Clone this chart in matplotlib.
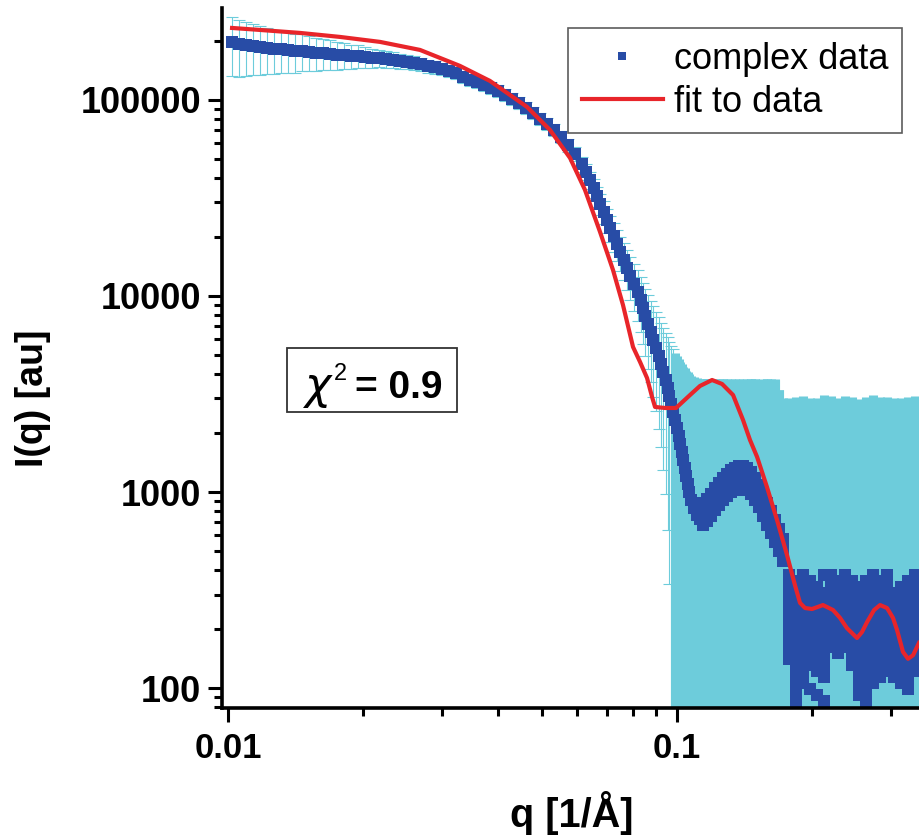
import matplotlib
matplotlib.use("Agg")
import matplotlib.pyplot as plt
from matplotlib.lines import Line2D
from matplotlib.patches import Rectangle
from matplotlib.ticker import LogLocator, NullFormatter

# ---------------- data ----------------
# smooth low-q part of the measured curve
q_low = [0.01021, 0.01058, 0.01097, 0.01137, 0.01178, 0.01221, 0.01266, 0.01312, 0.01360, 0.01410,
         0.01461, 0.01515, 0.01570, 0.01627, 0.01687, 0.01749, 0.01813, 0.01879, 0.01948, 0.02019,
         0.02093, 0.02169, 0.02248, 0.02331, 0.02416, 0.02505, 0.02596, 0.02691, 0.02790, 0.02891,
         0.02997, 0.03107, 0.03221, 0.03338, 0.03459, 0.03586, 0.03717, 0.03852, 0.03994, 0.04140,
         0.04291, 0.04448, 0.04610, 0.04779, 0.04954, 0.05135, 0.05322, 0.05517, 0.05718, 0.05927,
         0.06143]
I_low = [197700, 193100, 190800, 188600, 186400, 184200, 182000, 182000, 179900, 177800,
         177800, 175700, 173700, 173700, 171700, 169700, 169700, 167700, 167700, 165800,
         163800, 163800, 161900, 160000, 158100, 156300, 154500, 152600, 149100, 147400,
         143900, 140600, 137300, 131000, 126500, 123500, 119300, 115100, 111200, 106000,
         101200, 96540, 91000, 85800, 80000, 75450, 70300, 64750, 58950, 53030,
         47150]
err_low = [66000, 62000, 58000, 55000, 52000, 49000, 46000, 44000, 42000, 40000,
           38000, 36000, 34000, 32000, 30000, 28000, 26000, 24000, 22000, 20000,
           18000, 17000, 16000, 15000, 14000, 13000, 12500, 12000, 11500, 11000,
           10500, 10000, 9600, 9200, 8800, 8400, 8000, 7700, 7400, 7100,
           6800, 6500, 6200, 5900, 5600, 5300, 5000, 4800, 4600, 4400,
           4200]

# steep drop towards the first minimum
q_drop = [0.06270, 0.06401, 0.06534, 0.06636, 0.06739, 0.06878, 0.06985, 0.07093, 0.07240, 0.07353,
          0.07467, 0.07621, 0.07740, 0.07860, 0.08022, 0.08188, 0.08315, 0.08401, 0.08487, 0.08619,
          0.08753, 0.08843, 0.08981, 0.09120, 0.09214, 0.09308, 0.09452, 0.09550, 0.09599, 0.09698,
          0.09797, 0.09898, 0.1000, 0.1010, 0.1016, 0.1026, 0.1031, 0.1042, 0.1047, 0.1058,
          0.1063, 0.1074, 0.1091, 0.1108, 0.1125]
I_drop = [42930, 39070, 35560, 32370, 29470, 26830, 24420, 22230, 20240, 18420,
          16770, 15270, 13900, 12650, 11510, 10480, 9541, 8685, 7907, 7197,
          6551, 5963, 5429, 4942, 4499, 4095, 3727, 3393, 3088, 2812,
          2560, 2330, 2121, 1931, 1758, 1600, 1456, 1326, 1207, 1099,
          1000, 910, 829, 763, 728]
err_drop = [4100, 4000, 3900, 3800, 3700, 3600, 3500, 3450, 3400, 3350,
            3300, 3250, 3200, 3150, 3100, 3050, 3000, 3000, 2950, 2950,
            2900, 2900, 2850, 2850, 2800, 2800, 2750, 2750, 2750, 2750,
            2800, 2800, 2800, 2850, 2850, 2900, 2900, 2950, 2950, 3000,
            3000, 3000, 3050, 3050, 3050]

# second maximum: the band is thick, read as upper edge, middle and lower edge
q_bump = [0.1143, 0.1166, 0.1191, 0.1215, 0.1240, 0.1266, 0.1292, 0.1319, 0.1346, 0.1374,
          0.1403, 0.1432, 0.1462, 0.1492, 0.1523, 0.1555, 0.1587, 0.1620, 0.1654, 0.1688,
          0.1723]
I_bump_hi = [879, 921, 977, 1048, 1112, 1179, 1236, 1295, 1326, 1357,
             1357, 1326, 1265, 1179, 1086, 977, 879, 800, 720, 648,
             576]
I_bump_mid = [772, 809, 858, 921, 977, 1036, 1086, 1138, 1165, 1193,
              1193, 1165, 1112, 1036, 954, 858, 772, 703, 632, 569,
              506]
I_bump_lo = [679, 711, 754, 809, 858, 910, 954, 1000, 1024, 1048,
             1048, 1024, 977, 910, 838, 754, 679, 618, 556, 500,
             445]
err_bump_hi = [2870, 2830, 2770, 2700, 2640, 2570, 2510, 2450, 2420, 2390,
               2390, 2420, 2490, 2570, 2660, 2770, 2870, 2950, 3030, 2650,
               2420]
err_bump_mid = [2970, 2940, 2890, 2830, 2770, 2710, 2660, 2610, 2580, 2560,
                2560, 2580, 2640, 2710, 2790, 2890, 2970, 3040, 3110, 2730,
                2490]
err_bump_lo = [3070, 3040, 3000, 2940, 2890, 2840, 2800, 2750, 2730, 2700,
               2700, 2730, 2770, 2840, 2910, 3000, 3070, 3130, 3190, 2800,
               2555]

# noisy high-q region, read column by column
q_noise = [0.1776, 0.1841, 0.1908, 0.1978, 0.2050, 0.2125, 0.2203, 0.2284, 0.2367, 0.2454,
           0.2543, 0.2636, 0.2733, 0.2833, 0.2936, 0.3043, 0.3155, 0.3270, 0.3389]
I_noise = [
    [377, 328, 285, 247, 215, 186, 162, 141],
    [352, 305, 265, 230, 200, 174, 151, 131, 114, 99, 86],
    [377, 328, 285, 247, 215, 186, 162, 141, 122, 106],
    [352, 305, 265, 230, 200, 174, 151, 131, 99],
    [328, 285, 247, 215, 186, 162, 141, 122, 92],
    [377, 305, 265, 230, 200, 174, 151, 131, 114, 86],
    [377, 328, 285, 247, 215, 186, 162],
    [352, 305, 265, 230, 200, 174, 151],
    [377, 328, 285, 247, 215, 186, 162],
    [352, 305, 265, 230, 200, 174, 151, 131],
    [328, 285, 247, 215, 186, 162, 141, 122, 106, 92],
    [352, 305, 265, 230, 200, 174, 151, 131, 114, 99, 86],
    [377, 328, 285, 247, 215, 186, 162, 141, 122, 106],
    [352, 305, 265, 230, 200, 174, 151, 131, 114],
    [377, 328, 285, 247, 215, 186, 162, 141, 122],
    [305, 265, 230, 200, 174, 151, 131, 114],
    [328, 285, 247, 215, 186, 162, 141, 122, 106],
    [352, 305, 265, 230, 200, 174, 151, 131, 114, 99],
    [377, 328, 285, 247, 215, 186, 162, 141, 122],
]
err_noise = [2650, 2700, 2720, 2680, 2700, 2750, 2700, 2680, 2720, 2700,
             2660, 2700, 2740, 2700, 2680, 2720, 2700, 2690, 2710]

# fit curve
q_fit = [0.01021, 0.01178, 0.01447, 0.01776, 0.02181, 0.02677, 0.03286, 0.03832, 0.04634, 0.05213,
         0.05777, 0.06238, 0.06739, 0.07202, 0.07580, 0.07981, 0.08274, 0.08576, 0.08799, 0.08935,
         0.09404, 0.09949, 0.1069, 0.1125, 0.1197, 0.1260, 0.1333, 0.1403, 0.1454, 0.1508,
         0.1586, 0.1670, 0.1758, 0.1831, 0.1879, 0.1928, 0.1998, 0.2114, 0.2226, 0.2307,
         0.2391, 0.2517, 0.2582, 0.2650, 0.2747, 0.2833, 0.2936, 0.3027, 0.3090, 0.3186,
         0.3270, 0.3355, 0.3459]
I_fit = [232900, 227500, 219700, 209600, 197700, 179900, 149100, 125000, 92100, 70300,
         50600, 34740, 21210, 13570, 8997, 5493, 4605, 3815, 3053, 2715,
         2683, 2683, 3124, 3474, 3727, 3556, 3124, 2330, 1842, 1509,
         1061, 720, 477, 335, 272, 256, 253, 265, 250, 228,
         202, 180, 193, 217, 250, 265, 256, 228, 198, 153,
         141, 147, 170]

x_ticks = [0.01, 0.1]
x_tick_labels = ["0.01", "0.1"]
y_ticks = [100, 1000, 10000, 100000]
y_tick_labels = ["100", "1000", "10000", "100000"]
series_labels = ["complex data", "fit to data"]
chi_symbol = "χ"
chi_power = "2"
chi_text = "= 0.9"

# ---------------- assemble ----------------
q_all, I_all, e_all = [], [], []
q_all += q_low; I_all += I_low; e_all += err_low
q_all += q_drop; I_all += I_drop; e_all += err_drop
for Ib, eb in ((I_bump_hi, err_bump_hi), (I_bump_mid, err_bump_mid), (I_bump_lo, err_bump_lo)):
    q_all += q_bump; I_all += Ib; e_all += eb
for qc, col, ec in zip(q_noise, I_noise, err_noise):
    q_all += [qc] * len(col)
    I_all += col
    e_all += [ec] * len(col)

split = 0.0985
thin = [(q, i, e) for q, i, e in zip(q_all, I_all, e_all) if q < split]
thick = [(q, i, e) for q, i, e in zip(q_all, I_all, e_all) if q >= split]

BLUE = "#284ca6"
CYAN = "#6dccdb"
RED = "#e8252a"

plt.rcParams["font.family"] = ["Liberation Sans", "DejaVu Sans"]

W, H = 919, 839
fig = plt.figure(figsize=(W / 100, H / 100), dpi=100)
L, R, B, T = 222, 919, 708, 8
ax = fig.add_axes([L / W, 1 - B / H, (R - L) / W, (B - T) / H])
ax.set_xscale("log")
ax.set_yscale("log", nonpositive="clip")

ax.errorbar([t[0] for t in thin], [t[1] for t in thin], yerr=[t[2] for t in thin],
            fmt="none", ecolor=CYAN, elinewidth=0.8, capsize=4.5, capthick=0.8, zorder=1)
ax.errorbar([t[0] for t in thick], [t[1] for t in thick], yerr=[t[2] for t in thick],
            fmt="none", ecolor=CYAN, elinewidth=6.5, capsize=0, zorder=1)
ax.plot(q_all, I_all, ls="none", marker="s", ms=8.6, color=BLUE, mew=0, zorder=2)
ax.plot(q_fit, I_fit, color=RED, lw=3.0, zorder=3, solid_joinstyle="round")

ax.set_xlim(0.009697, 0.3459)
ax.set_ylim(79.1, 294400)

ax.set_xticks(x_ticks, labels=x_tick_labels, fontsize=25, fontweight="bold")
ax.set_yticks(y_ticks, labels=y_tick_labels, fontsize=26, fontweight="bold")
ax.xaxis.set_minor_locator(LogLocator(base=10, subs=range(2, 10)))
ax.yaxis.set_minor_locator(LogLocator(base=10, subs=range(2, 10)))
ax.xaxis.set_minor_formatter(NullFormatter())
ax.yaxis.set_minor_formatter(NullFormatter())
ax.tick_params(which="major", direction="out", length=10, width=2.2, color="black")
ax.tick_params(which="minor", direction="out", length=5.5, width=2.2, color="black")
ax.tick_params(axis="x", which="major", pad=7)
ax.tick_params(axis="y", which="major", pad=5)

for s in ("top", "right"):
    ax.spines[s].set_visible(False)
for s in ("left", "bottom"):
    ax.spines[s].set_linewidth(2.6)
    ax.spines[s].set_zorder(5)

# axis labels
fig.text(572 / W, 1 - 813 / H, "q [1/Å]", ha="center", va="center",
         fontsize=28.5, fontweight="bold")
fig.text(33 / W, 1 - 398 / H, "I(q) [au]", ha="center", va="center", rotation=90,
         fontsize=27, fontweight="bold")

# legend
handles = [Line2D([], [], ls="none", marker="s", ms=5.8, color=BLUE, mew=0),
           Line2D([], [], color=RED, lw=3.0)]
leg = ax.legend(handles, series_labels, loc="upper left",
                bbox_to_anchor=(568 / W, 1 - 28 / H), bbox_transform=fig.transFigure,
                borderaxespad=0, fontsize=26, frameon=True, fancybox=False,
                borderpad=0.38, handlelength=2.25, handletextpad=0.3, labelspacing=0.22)
leg.get_frame().set_edgecolor("#333333")
leg.get_frame().set_linewidth(1.2)
leg.set_zorder(10)

# chi-square box
fig.patches.append(Rectangle((287 / W, 1 - 412 / H), 170 / W, 64 / H, fill=False,
                             edgecolor="#333333", lw=1.3, transform=fig.transFigure))
fig.text(305 / W, 1 - 399 / H, chi_symbol, ha="left", va="baseline", fontsize=32,
         family=["DejaVu Sans"], style="italic")
fig.text(334 / W, 1 - 380 / H, chi_power, ha="left", va="baseline", fontsize=17)
fig.text(355 / W, 1 - 398 / H, chi_text, ha="left", va="baseline", fontsize=28,
         fontweight="bold")

fig.savefig("out.png", dpi=100)
